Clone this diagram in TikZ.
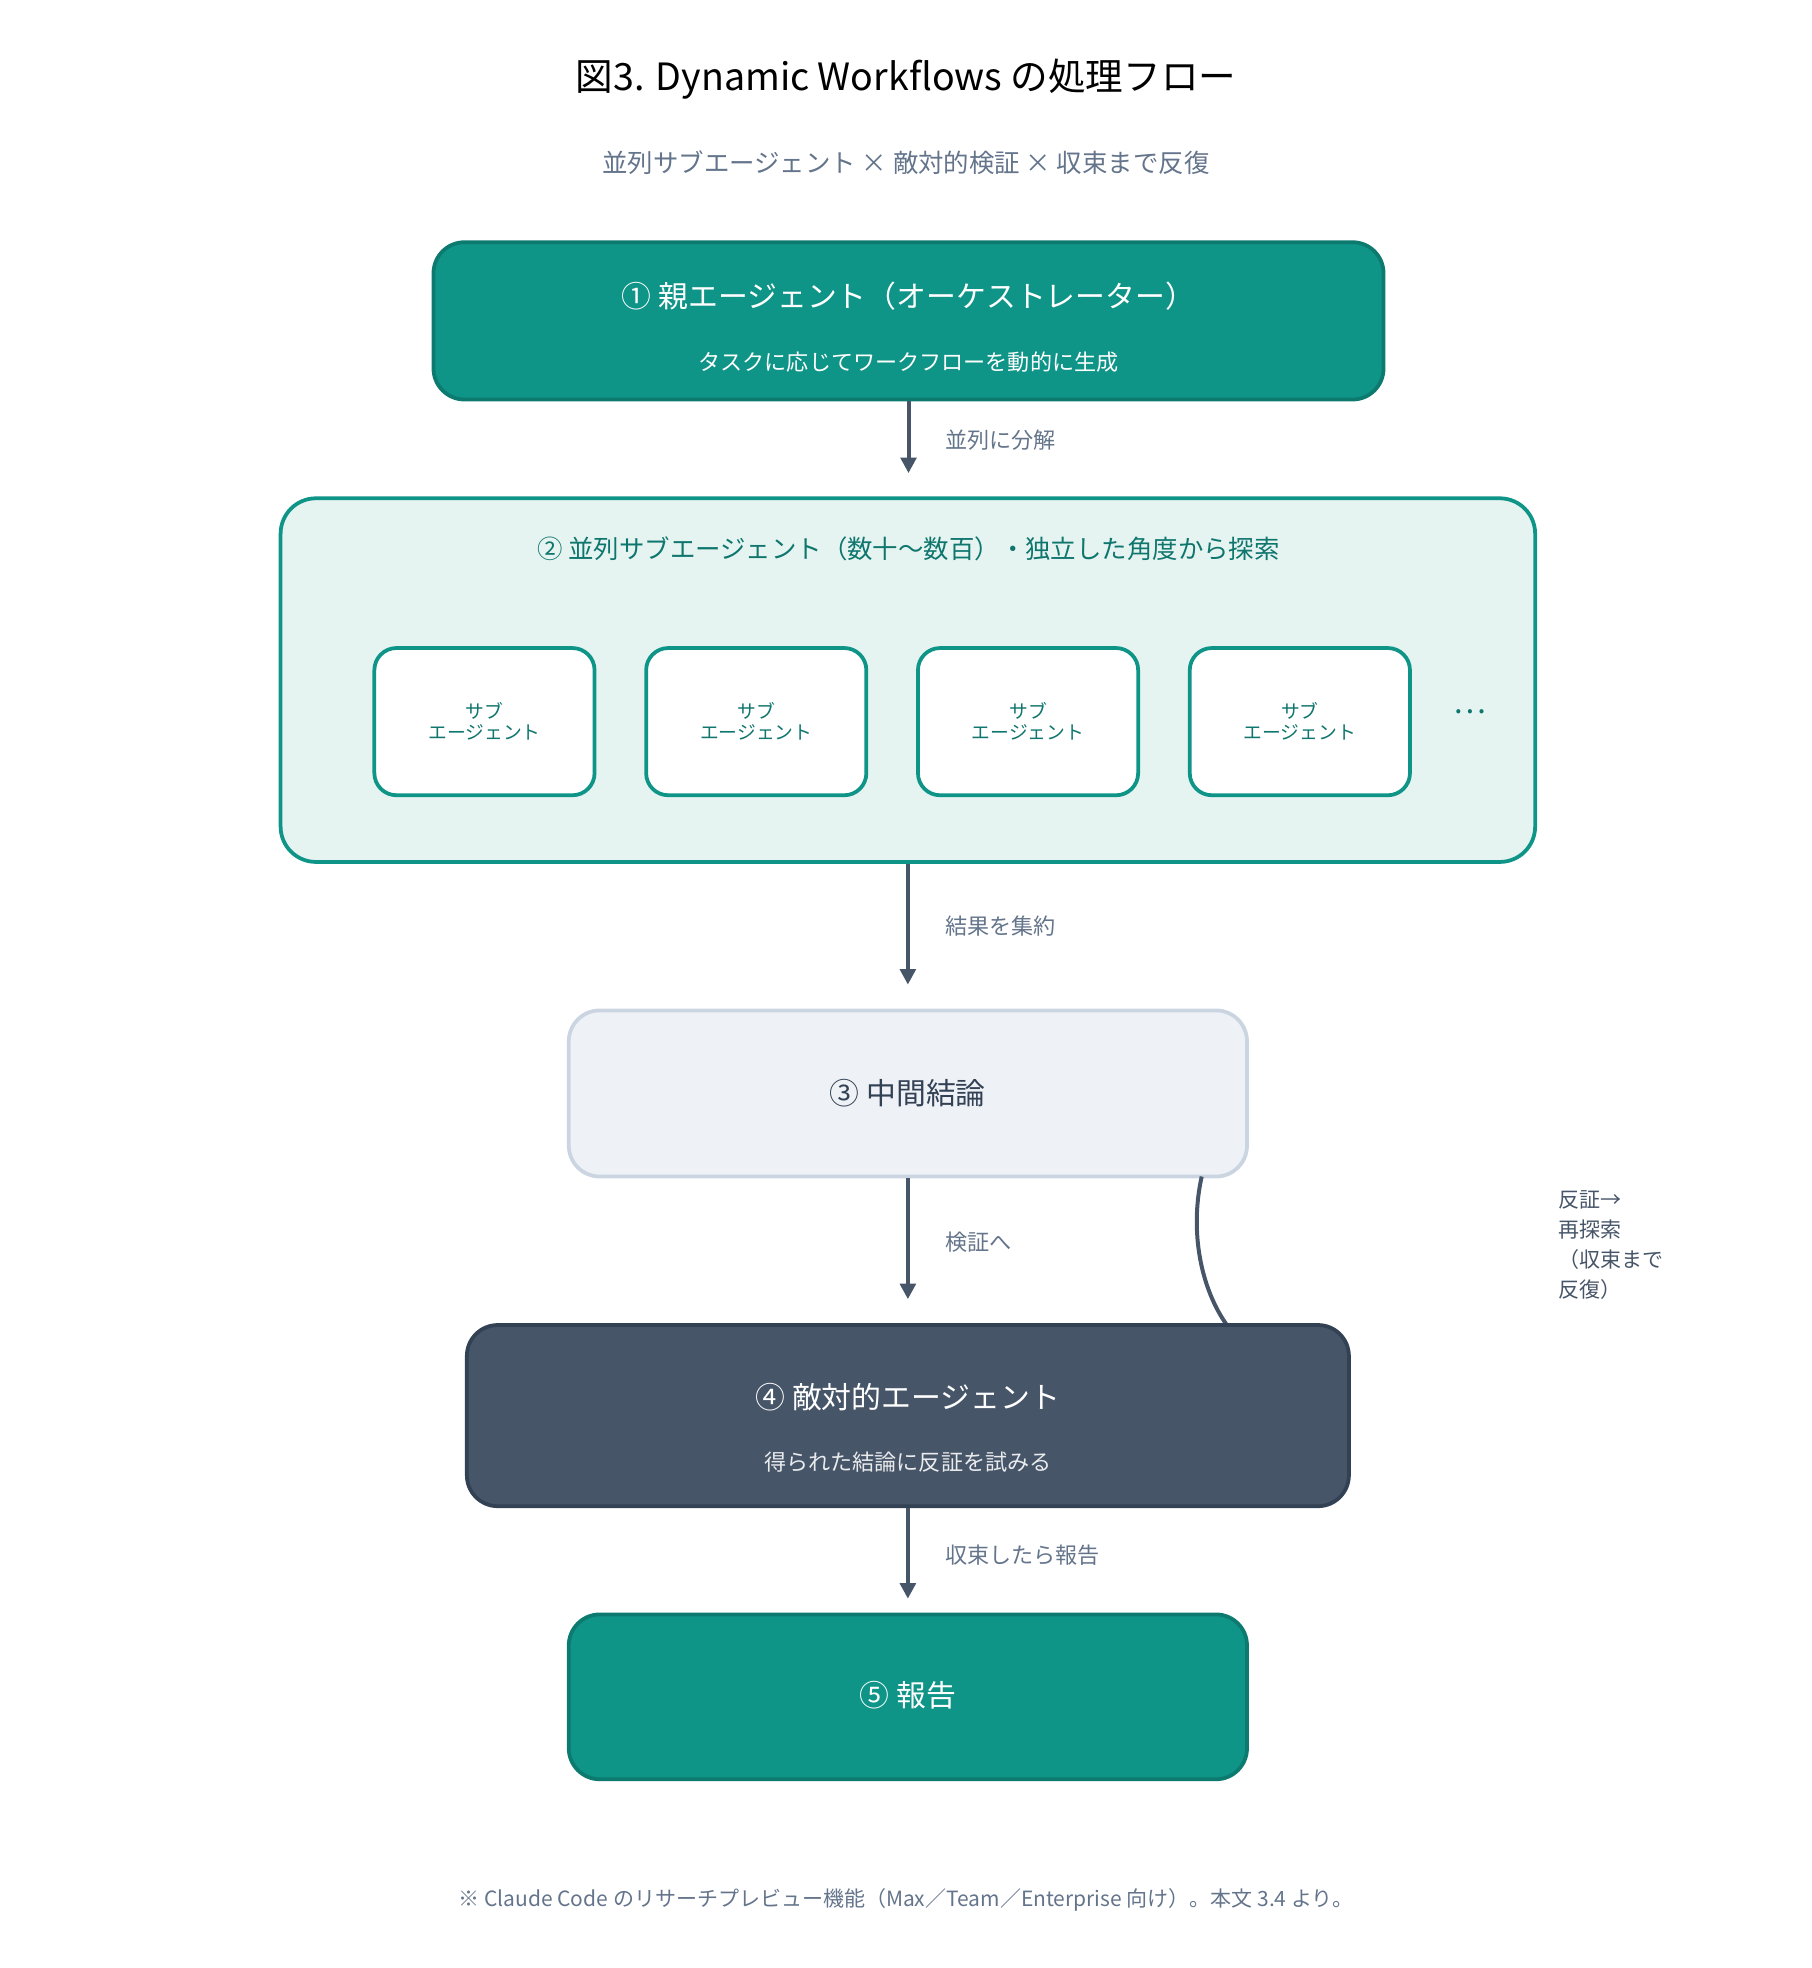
\documentclass[tikz,border=0pt]{standalone}
\usepackage{fontspec}
\setmainfont{Noto Sans CJK JP}
\usetikzlibrary{arrows.meta}
\definecolor{teal}{HTML}{0F9488}
\definecolor{tealdark}{HTML}{0D7A70}
\definecolor{tealtext}{HTML}{0F766E}
\definecolor{tealpale}{HTML}{E6F4F1}
\definecolor{slate}{HTML}{475569}
\definecolor{slatedark}{HTML}{334155}
\definecolor{greytext}{HTML}{64748B}
\definecolor{pale}{HTML}{EEF2F6}
\definecolor{paleborder}{HTML}{CBD5E1}
\tikzset{
  box/.style={draw, line width=1.7pt, rounded corners=14pt, inner sep=0pt},
  flow/.style={-{Triangle[length=7pt,width=7pt]}, line width=1.8pt, draw=slate},
  flowlabel/.style={anchor=west, text=greytext, font=\fontsize{10}{12}\selectfont},
  subagent/.style={box, fill=white, draw=teal, minimum width=175*0.02cm, minimum height=117*0.02cm,
    rounded corners=10pt, text=tealtext, align=center, font=\fontsize{8.5}{9.5}\selectfont}
}
\begin{document}
\begin{tikzpicture}[x=0.02cm, y=-0.02cm]
\useasboundingbox (0,0) rectangle (1440,1564);

% title
\node (title) at (720,63) {\fontsize{17}{20}\selectfont 図3. Dynamic Workflows の処理フロー};
\node[text=greytext] (subtitle) at (720,129) {\fontsize{11.5}{14}\selectfont 並列サブエージェント × 敵対的検証 × 収束まで反復};

% (1) parent
\node[box, fill=teal, draw=tealdark, minimum width=755*0.02cm, minimum height=125*0.02cm] (parent) at (722,255) {};
\node[text=white, font=\fontsize{13.5}{16}\selectfont] (parenthead) at (722,235) {① 親エージェント（オーケストレーター）};
\node[text=white, font=\fontsize{10}{12}\selectfont] (parentsub) at (722,288) {タスクに応じてワークフローを動的に生成};

% (2) parallel sub agents
\node[box, fill=tealpale, draw=teal, minimum width=997*0.02cm, minimum height=289*0.02cm, rounded corners=16pt] (group) at (721.5,540.5) {};
\node[text=tealtext, font=\fontsize{11.5}{14}\selectfont] (grouphead) at (722,436) {② 並列サブエージェント（数十〜数百）・独立した角度から探索};
\foreach \x/\n in {385/a, 601/b, 817/c, 1033/d}
  \node[subagent] (sub\n) at (\x,573.5) {サブ\\エージェント};
\node[text=tealtext, font=\fontsize{14}{16}\selectfont] (dots) at (1168,566) {…};

% (3) intermediate conclusion
\node[box, fill=pale, draw=paleborder, minimum width=539*0.02cm, minimum height=132*0.02cm] (middle) at (721.5,869) {};
\node[font=\fontsize{13.5}{16}\selectfont, text=slatedark] (middlehead) at (721.5,869) {③ 中間結論};

% (4) adversarial agent
\draw[line width=1.8pt, draw=slate] (955,935) .. controls (945,980) and (955,1025) .. (975,1053);
\node[box, fill=slate, draw=slatedark, minimum width=701*0.02cm, minimum height=144*0.02cm] (adversary) at (721.5,1125) {};
\node[text=white, font=\fontsize{13.5}{16}\selectfont] (adversaryhead) at (721.5,1110) {④ 敵対的エージェント};
\node[text=white!88!slate, font=\fontsize{10}{12}\selectfont] (adversarysub) at (721.5,1162) {得られた結論に反証を試みる};
\node[anchor=north west, align=left, text=slate, font=\fontsize{9.5}{13.5}\selectfont] (loop) at (1232,940) {反証→\\再探索\\（収束まで\\反復）};

% (5) report
\node[box, fill=teal, draw=tealdark, minimum width=539*0.02cm, minimum height=131*0.02cm] (report) at (721.5,1348.5) {};
\node[text=white, font=\fontsize{13.5}{16}\selectfont] (reporthead) at (721.5,1347) {⑤ 報告};

% connectors
\draw[flow] (parent.south) -- ++(0,57) coordinate (groupin);
\node[flowlabel] at (745,350) {並列に分解};
\draw[flow] (group.south) -- ++(0,96);
\node[flowlabel] at (745,736) {結果を集約};
\draw[flow] (middle.south) -- ++(0,96);
\node[flowlabel] at (745,987) {検証へ};
\draw[flow] (adversary.south) -- ++(0,72);
\node[flowlabel] at (745,1236) {収束したら報告};

% footer
\node[text=greytext, font=\fontsize{9.5}{12}\selectfont] (footer) at (720,1510) {※ Claude Code のリサーチプレビュー機能（Max／Team／Enterprise 向け）。本文 3.4 より。};
\end{tikzpicture}
\end{document}
